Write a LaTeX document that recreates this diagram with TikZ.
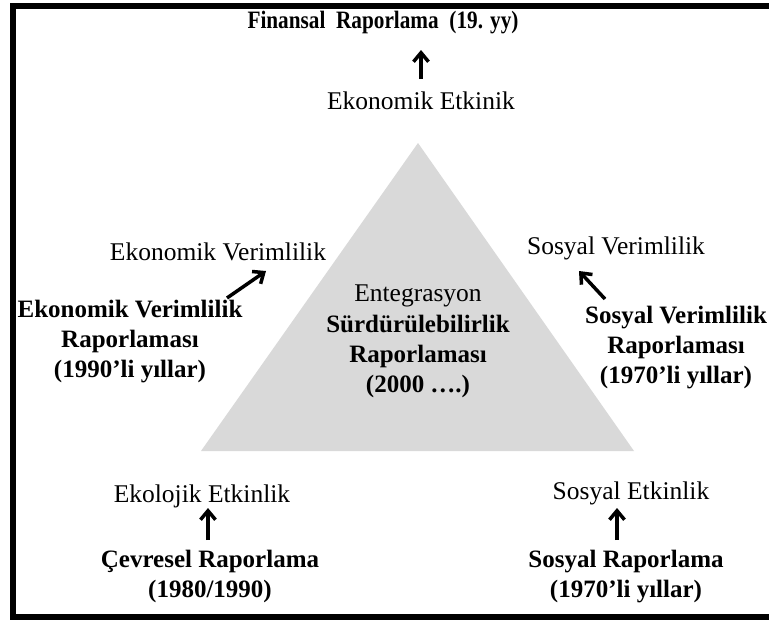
\documentclass[tikz,border=0pt]{standalone}
\usepackage{fontspec}
\setmainfont{Liberation Serif}
\usepackage{xcolor}
\usetikzlibrary{arrows.meta}
\definecolor{trigray}{RGB}{217,217,217}
\tikzset{
  lbl/.style={inner sep=1pt, font=\fontsize{25.5}{30}\selectfont, align=center},
  blbl/.style={lbl, font=\fontsize{25}{30}\selectfont\bfseries},
  arr/.style={-{Straight Barb[length=9pt,width=15pt,line width=3.5pt]}, line width=3.5pt},
}

\begin{document}
\begin{tikzpicture}[x=1pt,y=-1pt]
\clip (0,0) rectangle (769,621);
\fill[white] (0,0) rectangle (769,621);
% frame, open on the right
\draw[line width=6pt] (780,6) -- (12.8,6) -- (12.8,616.5) -- (780,616.5);

% triangle
\fill[trigray] (418,143) -- (634,451) -- (201,451) -- cycle;

% top
\node[blbl] (finans) at (383,23) {\scalebox{0.85}[1]{Finansal\ \ Raporlama\ \ (19. yy)}};
\node[lbl] (ekoetk) at (421,101) {Ekonomik Etkinik};
\draw[arr] ([shift={(0,-22)}]ekoetk.center) -- ([shift={(38,27)}]finans.center);

% left
\node[lbl] (ekver) at (218,252) {Ekonomik Verimlilik};
\node[blbl] (ekrap) at (130,342) {Ekonomik Verimlilik\\Raporlaması\\(1990’li yıllar)};
\draw[arr] ([shift={(97,-44)}]ekrap.center) -- ([shift={(48,19)}]ekver.center);

% centre
\node[lbl] (entg) at (418,296) {Entegrasyon};
\node[blbl] (surd) at (418,356) {Sürdürülebilirlik\\Raporlaması\\(2000 ….)};

% right
\node[lbl] (sosver) at (616,248) {Sosyal Verimlilik};
\node[blbl] (sosrap) at (676,348) {Sosyal Verimlilik\\Raporlaması\\(1970’li yıllar)};
\draw[arr] ([shift={(-71,-49)}]sosrap.center) -- ([shift={(-37,23)}]sosver.center);

% bottom
\node[lbl] (ekol) at (202,496) {Ekolojik Etkinlik};
\node[blbl] (cevre) at (210,576) {Çevresel Raporlama\\(1980/1990)};
\draw[arr] ([shift={(-2,-36)}]cevre.center) -- ([shift={(6,12)}]ekol.center);

\node[lbl] (sosetk) at (631,493) {Sosyal Etkinlik};
\node[blbl] (sosr) at (626,577) {Sosyal Raporlama\\(1970’li yıllar)};
\draw[arr] ([shift={(-9,-37)}]sosr.center) -- ([shift={(-14,15)}]sosetk.center);
\end{tikzpicture}
\end{document}
